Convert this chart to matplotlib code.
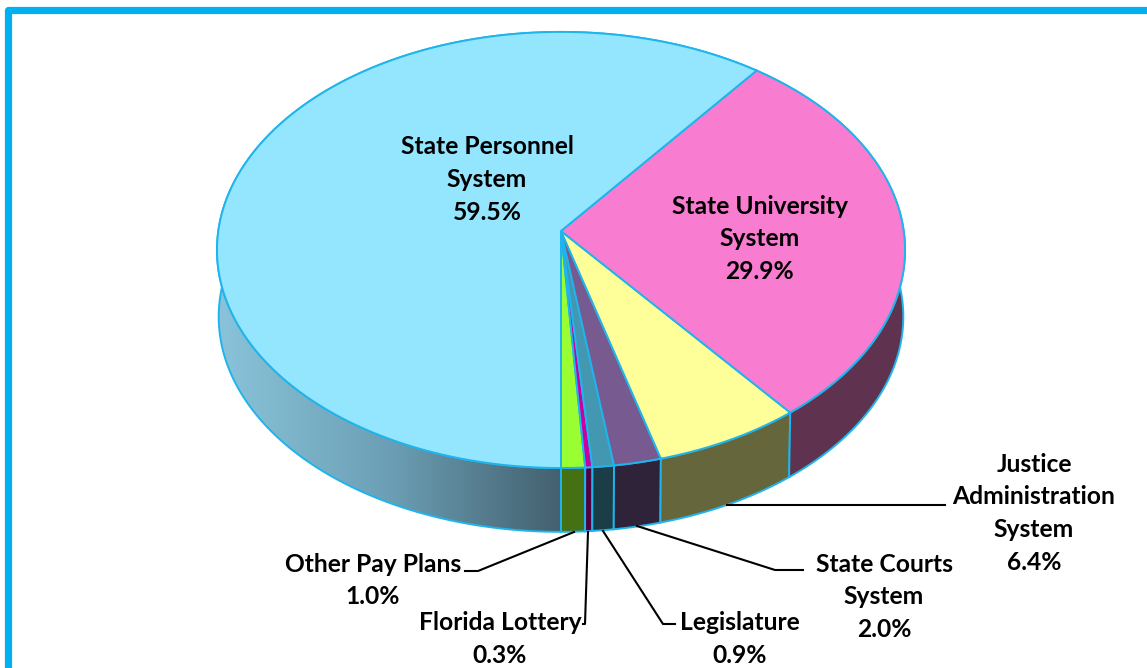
import numpy as np
import matplotlib
matplotlib.use("Agg")
import matplotlib.pyplot as plt
from matplotlib.colors import LinearSegmentedColormap
from matplotlib.patches import Polygon

plt.rcParams['font.family'] = ['Lato', 'DejaVu Sans']

# order is going round from the front of the pie, to the right
names = ["Other Pay Plans", "Florida Lottery", "Legislature", "State Courts\nSystem",
         "Justice\nAdministration\nSystem", "State University\nSystem", "State Personnel\nSystem"]
values = [1.0, 0.3, 0.9, 2.0, 6.4, 29.9, 59.5]
top_colors = ["#99FF33", "#CC00A0", "#4397B0", "#775A8F", "#FFFF99", "#F87DD0", "#94E6FF"]
side_colors = ["#467014", "#520040", "#1B3D47", "#2E2338", "#66663C", "#5F3350", None]

label_x = [373, 500, 740, 884, 1034, 760, 487]
label_y = [564, 623, 623, 564, 464, 206, 147]

EDGE = "#1FB4EC"


def rim(t, cx, cy, a, b, k=0.087):
    # perspective circle, t in degrees from the front
    r = np.radians(t - 2.6 * np.sin(np.radians(t)) + 2.07 * np.sin(np.radians(2 * t)))
    u = np.sin(r)
    v = np.cos(r)
    d = 1 - k * v
    return np.column_stack([cx + a * u / d, cy + b * v / d])


def top_rim(t):
    return rim(t, 561, 231, 342.7, 216.4)


def bottom_rim(t):
    return rim(t, 561, 298, 341, 213.5)


fig = plt.figure(figsize=(11.47, 6.68), dpi=100)
ax = fig.add_axes([0, 0, 1, 1])

# frame, runs off the right and the bottom
ax.plot([7.5, 7.5, 1160], [700, 9.5, 9.5], color="#00B0F0", lw=5.2, solid_joinstyle="round")

edges = np.concatenate([[0], np.cumsum(values)]) / sum(values) * 360

# walls
for i in range(len(values)):
    t = np.linspace(edges[i], edges[i + 1], 200)
    pts = np.vstack([top_rim(t), bottom_rim(t[::-1])])
    if side_colors[i] is None:
        cmap = LinearSegmentedColormap.from_list("wall", ["#8AC4DA", "#6C9FB5", "#43606F"])
        grad = np.linspace(0, 1, 256).reshape(1, -1)
        im = ax.imshow(grad, cmap=cmap, extent=[217, 561, 540, 240], aspect="auto", zorder=2)
        poly = Polygon(pts, closed=True, fc="none", ec=EDGE, lw=1.4, zorder=3)
        ax.add_patch(poly)
        im.set_clip_path(poly)
    else:
        ax.add_patch(Polygon(pts, closed=True, fc=side_colors[i], ec=EDGE, lw=1.4, zorder=3))

# top of the pie
for i in range(len(values)):
    t = np.linspace(edges[i], edges[i + 1], 200)
    pts = np.vstack([[[561, 231]], top_rim(t)])
    ax.add_patch(Polygon(pts, closed=True, fc=top_colors[i], ec=EDGE, lw=1.4, zorder=4))

# leader lines
leaders = [
    [(574, 532), (478, 571), (465, 571)],
    [(588, 532), (585, 624), (583, 624)],
    [(603, 531), (663, 624), (675, 624)],
    [(637, 526), (775, 570), (803, 570)],
    [(727, 505), (945, 505)],
]
for line in leaders:
    xs, ys = zip(*line)
    ax.plot(xs, ys, color="black", lw=1.5, zorder=5)

# labels
for name, val, x, y in zip(names, values, label_x, label_y):
    for j, s in enumerate(name.split("\n") + ["%.1f%%" % val]):
        ax.text(x, y + j * 32.7, s, ha="center", va="center", fontsize=17.7,
                fontweight="bold", color="black", zorder=6)

ax.set_xlim(0, 1147)
ax.set_ylim(668, 0)
ax.axis("off")
fig.savefig("out.png", dpi=100)
